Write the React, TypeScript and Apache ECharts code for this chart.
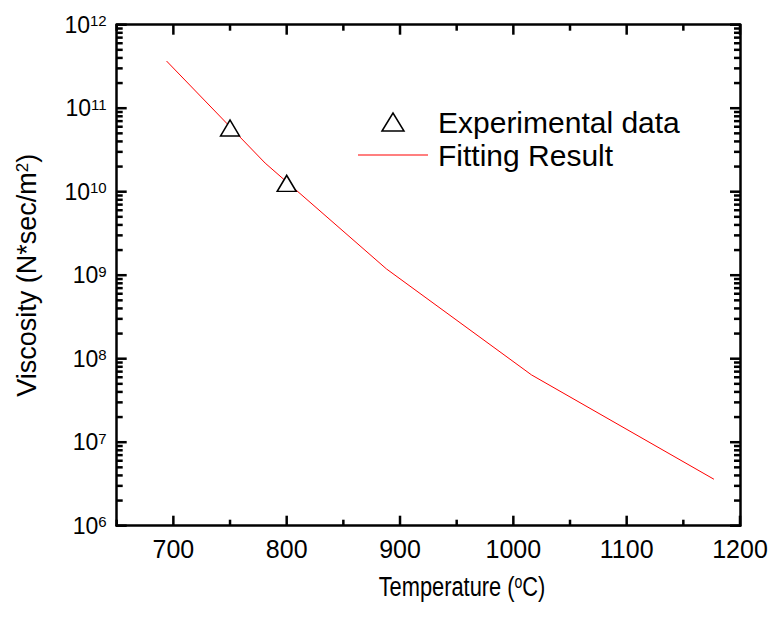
import React, { useEffect, useRef } from "react";
import * as echarts from "echarts";

const FONT = "'Liberation Sans', Arial, sans-serif";

// Fitting result (temperature in °C, viscosity in N*sec/m^2)
const fitTemps = [694, 781, 888, 1016, 1177];
const fitViscosity = [3.67e11, 2.2e10, 1.19e9, 6.4e7, 3.6e6];

// Experimental data
const expTemps = [750, 800];
const expViscosity = [5.8e10, 1.26e10];

// Axis ticks / labels
const xMajorTicks = [700, 800, 900, 1000, 1100, 1200];
const xMinorTicks = [650, 750, 850, 950, 1050, 1150];
const yMajorTicks = [1e6, 1e7, 1e8, 1e9, 1e10, 1e11, 1e12];
const yMinorMantissas = [2, 3, 4, 5, 6, 7, 8, 9];
const yMinorTicks: number[] = [];
for (const dec of yMajorTicks.slice(0, -1)) {
  for (const m of yMinorMantissas) yMinorTicks.push(m * dec);
}

const X_MIN = 650;
const X_MAX = 1200;
const Y_MIN = 1e6;
const Y_MAX = 1e12;

const TRIANGLE = "path://M0,18L11,0L22,18Z";
const LEGEND_LINE = "path://M0,0L70,0L70,1L0,1Z";

const MAJOR_LEN = 10;
const MINOR_LEN = 6;
const TICK_W = 2.5;

function tickSeries(name: string, data: number[][], size: number[], offset: number[]) {
  return {
    type: "scatter",
    name,
    xAxisIndex: 0,
    yAxisIndex: 0,
    data,
    symbol: "rect",
    symbolSize: size,
    symbolOffset: offset,
    itemStyle: { color: "#000", opacity: 1 },
    silent: true,
    clip: false,
    z: 4,
    emphasis: { disabled: true },
  };
}

function buildOption(): any {
  const lineStyle = { color: "#000", width: 2.5 };

  const xBase = { type: "value", min: X_MIN, max: X_MAX, splitNumber: 5, splitLine: { show: false }, axisPointer: { show: false } };
  const yBase = { type: "log", logBase: 10, min: Y_MIN, max: Y_MAX, splitLine: { show: false }, axisPointer: { show: false } };

  const xAxis = [
    {
      ...xBase,
      position: "bottom",
      axisLine: { show: true, onZero: false, lineStyle },
      axisTick: { show: false },
      axisLabel: {
        show: true,
        customValues: xMajorTicks,
        formatter: (v: number) => String(v),
        fontSize: 25,
        color: "#000",
        fontFamily: FONT,
        margin: 11,
      },
    },
    {
      ...xBase,
      position: "top",
      axisLine: { show: true, onZero: false, lineStyle },
      axisTick: { show: false },
      axisLabel: { show: false },
    },
  ];

  const yAxis = [
    {
      ...yBase,
      position: "left",
      axisLine: { show: true, onZero: false, lineStyle },
      axisTick: { show: false },
      axisLabel: {
        show: true,
        customValues: yMajorTicks,
        margin: 10,
        formatter: (v: number) => `{b|10}{s|${Math.round(Math.log10(v))}}`,
        rich: {
          b: { fontSize: 23, lineHeight: 23, fontFamily: FONT, color: "#000", padding: [8, 0, 0, 0], verticalAlign: "bottom" },
          s: { fontSize: 15, lineHeight: 15, fontFamily: FONT, color: "#000", verticalAlign: "top" },
        },
      },
      name: "{t|Viscosity (N*sec/m}{s|2}{t|)}",
      nameLocation: "middle",
      nameGap: 76,
      nameTextStyle: {
        rich: {
          t: { fontSize: 27, lineHeight: 27, fontFamily: FONT, color: "#000", padding: [7, 0, 0, 0], verticalAlign: "bottom" },
          s: { fontSize: 17, lineHeight: 17, fontFamily: FONT, color: "#000", verticalAlign: "top" },
        },
      },
    },
    {
      ...yBase,
      position: "right",
      axisLine: { show: true, onZero: false, lineStyle },
      axisTick: { show: false },
      axisLabel: { show: false },
    },
  ];

  const ticks = [
    tickSeries("tick-left-major", yMajorTicks.map((v) => [X_MIN, v]), [MAJOR_LEN, TICK_W], [MAJOR_LEN / 2, 0]),
    tickSeries("tick-right-major", yMajorTicks.map((v) => [X_MAX, v]), [MAJOR_LEN, TICK_W], [-MAJOR_LEN / 2, 0]),
    tickSeries("tick-left-minor", yMinorTicks.map((v) => [X_MIN, v]), [MINOR_LEN, TICK_W], [MINOR_LEN / 2, 0]),
    tickSeries("tick-right-minor", yMinorTicks.map((v) => [X_MAX, v]), [MINOR_LEN, TICK_W], [-MINOR_LEN / 2, 0]),
    tickSeries("tick-bottom-major", xMajorTicks.map((v) => [v, Y_MIN]), [TICK_W, MAJOR_LEN], [0, -MAJOR_LEN / 2]),
    tickSeries("tick-top-major", xMajorTicks.map((v) => [v, Y_MAX]), [TICK_W, MAJOR_LEN], [0, MAJOR_LEN / 2]),
    tickSeries("tick-bottom-minor", xMinorTicks.map((v) => [v, Y_MIN]), [TICK_W, MINOR_LEN], [0, -MINOR_LEN / 2]),
    tickSeries("tick-top-minor", xMinorTicks.map((v) => [v, Y_MAX]), [TICK_W, MINOR_LEN], [0, MINOR_LEN / 2]),
  ];

  return {
    animation: false,
    backgroundColor: "#fff",
    textStyle: { fontFamily: FONT },
    grid: { left: 116.7, right: 33, top: 24.7, bottom: 94.3, containLabel: false, outerBoundsMode: "none" },
    graphic: [
      {
        type: "text",
        x: 462,
        y: 586,
        scaleX: 0.78,
        silent: true,
        style: {
          text: "{t|Temperature (}{s|o}{t|C)}",
          align: "center",
          verticalAlign: "middle",
          rich: {
            t: { fontSize: 28, lineHeight: 28, fontFamily: FONT, fill: "#000", padding: [9, 0, 0, 0], verticalAlign: "bottom" },
            s: { fontSize: 18, lineHeight: 18, fontFamily: FONT, fill: "#000", verticalAlign: "top" },
          },
        },
      },
    ],
    legend: {
      orient: "vertical",
      left: 358,
      top: 107,
      padding: 0,
      itemWidth: 70,
      itemHeight: 18,
      itemGap: 3,
      selectedMode: false,
      textStyle: { fontSize: 30, lineHeight: 30, color: "#000", fontFamily: FONT, padding: [0, 0, 0, 5] },
      data: [
        { name: "Experimental data", icon: TRIANGLE, itemStyle: { color: "#fff", borderColor: "#000", borderWidth: 1.5 } },
        { name: "Fitting Result", icon: LEGEND_LINE, itemStyle: { color: "#ff0000", borderWidth: 0 } },
      ],
    },
    xAxis,
    yAxis,
    series: [
      ...ticks,
      {
        type: "line",
        name: "Fitting Result",
        xAxisIndex: 0,
        yAxisIndex: 0,
        data: fitTemps.map((t, i) => [t, fitViscosity[i]]),
        symbol: "none",
        lineStyle: { color: "#ff0000", width: 1 },
        itemStyle: { color: "#ff0000" },
        z: 2,
      },
      {
        type: "scatter",
        name: "Experimental data",
        xAxisIndex: 0,
        yAxisIndex: 0,
        data: expTemps.map((t, i) => [t, expViscosity[i]]),
        symbol: TRIANGLE,
        symbolSize: [19, 16],
        itemStyle: { color: "#fff", borderColor: "#000", borderWidth: 1.5, opacity: 1 },
        z: 3,
      },
    ],
  };
}

export default function App() {
  const ref = useRef<HTMLDivElement>(null);
  useEffect(() => {
    if (!ref.current) return;
    const chart = echarts.init(ref.current, null, { renderer: "svg" });
    chart.setOption(buildOption());
    return () => chart.dispose();
  }, []);
  return <div ref={ref} style={{ position: "fixed", left: 0, top: 0, width: 773, height: 620 }} />;
}
